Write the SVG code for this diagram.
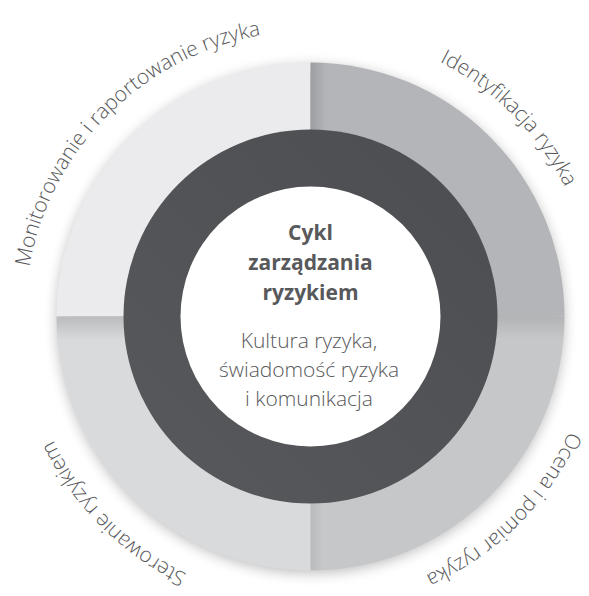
<svg xmlns="http://www.w3.org/2000/svg" xmlns:xlink="http://www.w3.org/1999/xlink" width="589" height="596" viewBox="0 0 589 596">
  <style>
    .label { font-family: "Open Sans", "Liberation Sans", sans-serif; font-size: 21px; font-weight: 300; fill: #58595b; }
    .title { font-family: "Open Sans", "Liberation Sans", sans-serif; font-size: 21px; font-weight: 700; fill: #58595b; text-anchor: middle; }
    .sub { font-family: "Open Sans", "Liberation Sans", sans-serif; font-size: 21px; font-weight: 300; fill: #58595b; text-anchor: middle; }
  </style>
  <defs>
    <filter id="blur" x="-20%" y="-20%" width="140%" height="140%">
      <feGaussianBlur stdDeviation="7"/>
    </filter>
    <clipPath id="disk">
      <circle cx="310.5" cy="316.5" r="254"/>
    </clipPath>
    <linearGradient id="shH" x1="0" y1="0" x2="1" y2="0">
      <stop offset="0" stop-color="#000" stop-opacity="0.13"/>
      <stop offset="1" stop-color="#000" stop-opacity="0"/>
    </linearGradient>
    <linearGradient id="shV" x1="0" y1="0" x2="0" y2="1">
      <stop offset="0" stop-color="#000" stop-opacity="0.14"/>
      <stop offset="1" stop-color="#000" stop-opacity="0"/>
    </linearGradient>
    <linearGradient id="darkRing" x1="0" y1="1" x2="1" y2="0">
      <stop offset="0" stop-color="#58595c"/>
      <stop offset="1" stop-color="#4c4d50"/>
    </linearGradient>
    <path id="arcTL" d="M 34.7 390.4 A 285.5 285.5 0 0 1 384.4 40.7"/>
    <path id="arcTR" d="M 236.6 40.7 A 285.5 285.5 0 0 1 586.3 390.4"/>
    <path id="arcBR" d="M 583.9 243.3 A 283 283 0 0 1 237.3 589.9"/>
    <path id="arcBL" d="M 384.4 592.3 A 285.5 285.5 0 0 1 34.7 242.6"/>
  </defs>

  <rect width="589" height="596" fill="#ffffff"/>

  <circle cx="310.5" cy="319.5" r="253" fill="#000" opacity="0.28" filter="url(#blur)"/>

  <g id="q-monitorowanie">
    <path d="M 310.5 316.5 L 56.5 316.5 A 254 254 0 0 1 310.5 62.5 Z" fill="#ebebed"/>
    <text class="label"><textPath xlink:href="#arcTL" href="#arcTL" startOffset="50%" text-anchor="middle">Monitorowanie i raportowanie ryzyka</textPath></text>
  </g>

  <g id="q-identyfikacja">
    <path d="M 310.5 316.5 L 310.5 62.5 A 254 254 0 0 1 564.5 316.5 Z" fill="#b4b5b8"/>
    <g clip-path="url(#disk)">
      <rect x="310.5" y="62" width="16" height="254.5" fill="url(#shH)"/>
    </g>
    <text class="label"><textPath xlink:href="#arcTR" href="#arcTR" startOffset="50%" text-anchor="middle">Identyfikacja ryzyka</textPath></text>
  </g>

  <g id="q-ocena">
    <path d="M 310.5 316.5 L 564.5 316.5 A 254 254 0 0 1 310.5 570.5 Z" fill="#c6c7c9"/>
    <g clip-path="url(#disk)">
      <rect x="310.5" y="316.5" width="255" height="22" fill="url(#shV)" opacity="0.7"/>
      <rect x="310.5" y="316.5" width="12" height="255" fill="url(#shH)" opacity="0.5"/>
    </g>
    <text class="label"><textPath xlink:href="#arcBR" href="#arcBR" startOffset="50%" text-anchor="middle">Ocena i pomiar ryzyka</textPath></text>
  </g>

  <g id="q-sterowanie">
    <path d="M 310.5 316.5 L 310.5 570.5 A 254 254 0 0 1 56.5 316.5 Z" fill="#d9dadc"/>
    <g clip-path="url(#disk)">
      <rect x="56" y="316.5" width="254.5" height="24" fill="url(#shV)"/>
    </g>
    <text class="label"><textPath xlink:href="#arcBL" href="#arcBL" startOffset="50%" text-anchor="middle">Sterowanie ryzykiem</textPath></text>
  </g>

  <g id="center">
    <circle cx="310.5" cy="316.5" r="187" fill="url(#darkRing)"/>
    <circle cx="310.5" cy="316.5" r="130" fill="#ffffff"/>
    <text class="title" x="310.5" y="239.5">Cykl</text>
    <text class="title" x="310.5" y="270">zarządzania</text>
    <text class="title" x="310.5" y="300">ryzykiem</text>
    <text class="sub" x="309" y="348">Kultura ryzyka,</text>
    <text class="sub" x="309" y="377">świadomość ryzyka</text>
    <text class="sub" x="309" y="406">i komunikacja</text>
  </g>

  <g id="connectors"/>
</svg>
